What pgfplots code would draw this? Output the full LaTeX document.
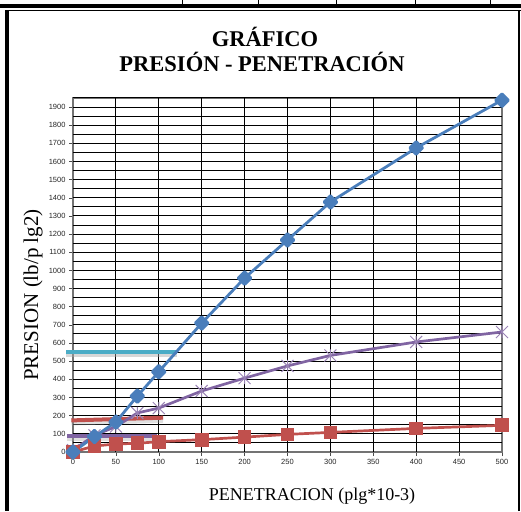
\documentclass[border=0pt]{standalone}
\usepackage{fontspec}
\setmainfont{Liberation Serif}
\newfontfamily\tickfont{Liberation Sans}
\usepackage{pgfplots}
\pgfplotsset{compat=1.18}

\definecolor{serBlue}{RGB}{74,126,187}
\definecolor{serRed}{RGB}{192,80,77}
\definecolor{serPurple}{RGB}{128,100,162}
\definecolor{serCyan}{RGB}{75,172,198}

% Excel-like star marker: an x crossed by a vertical bar
\pgfdeclareplotmark{xstar}{%
  \pgfpathmoveto{\pgfqpoint{-\pgfplotmarksize}{-\pgfplotmarksize}}%
  \pgfpathlineto{\pgfqpoint{\pgfplotmarksize}{\pgfplotmarksize}}%
  \pgfpathmoveto{\pgfqpoint{-\pgfplotmarksize}{\pgfplotmarksize}}%
  \pgfpathlineto{\pgfqpoint{\pgfplotmarksize}{-\pgfplotmarksize}}%
  \pgfpathmoveto{\pgfqpoint{0pt}{-\pgfplotmarksize}}%
  \pgfpathlineto{\pgfqpoint{0pt}{\pgfplotmarksize}}%
  \pgfusepathqstroke}

\begin{document}
\begin{tikzpicture}[x=1pt,y=1pt]
\useasboundingbox (0,0) rectangle (521,511);

% surrounding table frame
\fill[black] (0,503) rectangle (521,507);
\draw[line width=1pt] (8,500.5) -- (521,500.5);
\foreach \xx in {182,258,336,415,490} \draw[line width=1pt] (\xx,507) -- (\xx,511);
\fill[black] (5,0) rectangle (9,501);
\draw[line width=1.2pt] (519,0) -- (519,501);

% titles
\node[font=\bfseries\fontsize{22.5}{24}\selectfont] at (265,474) {GRÁFICO};
\node[font=\bfseries\fontsize{22.5}{24}\selectfont] at (262,449) {PRESIÓN - PENETRACIÓN};
\node[rotate=90,font=\fontsize{21}{23}\selectfont] at (33,216) {PRESION (lb/p lg2)};
\node[font=\fontsize{18}{20}\selectfont] at (312,15) {PENETRACION (plg*10-3)};

\begin{axis}[
  at={(73pt,59pt)}, anchor=south west,
  scale only axis, width=429pt, height=354pt,
  xmin=0, xmax=500, ymin=0, ymax=1950,
  xtick={0,50,...,500},
  ytick={0,100,...,1900},
  axis line style={black!55, line width=1.2pt},
  tick style={black!70, line width=0.6pt},
  major tick length=4pt,
  tick align=outside,
  xtick pos=bottom, ytick pos=left,
  ticklabel style={font=\tickfont\fontsize{7.5}{8.5}\selectfont, text=black!85},
  /pgf/number format/assume math mode=true,
  /pgf/number format/1000 sep={},
  clip=false,
]
% grid: horizontal every 50, vertical every 50 (drawn first, under the series)
\pgfplotsinvokeforeach{50,100,...,1950}{
  \draw[black, line width=1pt] (axis cs:0,#1) -- (axis cs:500,#1);}
\pgfplotsinvokeforeach{50,100,...,450}{
  \draw[black, line width=1pt] (axis cs:#1,0) -- (axis cs:#1,1950);}

% reference bars with soft shadows
\addplot[no marks, line width=5pt, black!35, opacity=0.45] coordinates {(-8,535) (121,535)};
\addplot[no marks, line width=4pt, serCyan] coordinates {(-8,552) (121,552)};
\addplot[no marks, line width=5pt, black!35, opacity=0.35] coordinates {(-2,160) (105,175)};
\addplot[no marks, line width=4pt, serRed] coordinates {(-2,174) (105,189)};
\addplot[no marks, line width=5pt, black!35, opacity=0.35] coordinates {(-7,74) (98,74)};
\addplot[no marks, line width=4pt, serPurple] coordinates {(-7,87) (98,87)};

% purple series
\addplot[serPurple, line width=2.7pt, mark=xstar,
  mark size=6pt, mark options={line width=1pt, serPurple!80}]
  coordinates {(0,10) (25,92) (50,140) (75,215) (100,242) (150,336) (200,407)
               (250,474) (300,532) (400,606) (500,661)};
% red series
\addplot[serRed, line width=2.7pt, mark=square*,
  mark size=5.5pt, mark options={serRed, fill=serRed}]
  coordinates {(0,0) (25,33) (50,44) (75,48) (100,57) (150,68) (200,82)
               (250,97) (300,108) (400,130) (500,147)};
% blue series
\addplot[serBlue, line width=2.8pt, line join=round, mark=square*,
  mark size=4.5pt, mark options={rotate=45, serBlue, fill=serBlue}]
  coordinates {(0,0) (25,85) (50,165) (75,308) (100,442) (150,710) (200,958)
               (250,1168) (300,1377) (400,1675) (500,1938)};
\end{axis}
\end{tikzpicture}
\end{document}
